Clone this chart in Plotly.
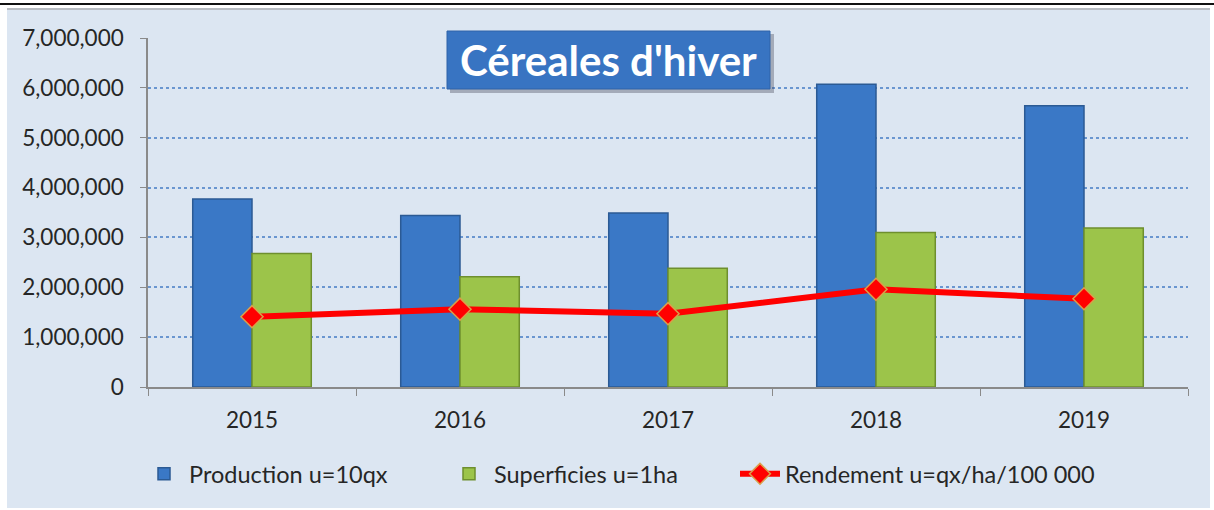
import plotly.graph_objects as go

years = ["2015", "2016", "2017", "2018", "2019"]
production = [3770000, 3440000, 3490000, 6070000, 5640000]
superficies = [2680000, 2210000, 2380000, 3100000, 3190000]
rendement = [1410000, 1560000, 1470000, 1960000, 1770000]
y_ticks = [0, 1000000, 2000000, 3000000, 4000000, 5000000, 6000000, 7000000]

W, H = 1214, 510
L, R, T, B = 148, 26, 38, 123
PW, PH = W - L - R, H - T - B

def px(x):
    return (x - L) / PW

def py(y):
    return (H - B - y) / PH

FONT = "Lato"
LEG_FONT = dict(family=FONT, size=23.5, color="#262626")

fig = go.Figure()
fig.add_trace(go.Bar(
    x=years, y=production, name="Production u=10qx", legend="legend",
    showlegend=True,
    marker=dict(color="#3a78c6", line=dict(color="#2b5a94", width=1.5)),
))
fig.add_trace(go.Bar(
    x=years, y=superficies, name="Superficies u=1ha", legend="legend2",
    showlegend=True,
    marker=dict(color="#9cc44a", line=dict(color="#6e8f2e", width=1.5)),
))
fig.add_trace(go.Scatter(
    x=years, y=rendement, name="Rendement u=qx/ha/100 000", legend="legend3",
    showlegend=True,
    mode="lines+markers",
    line=dict(color="#ff0000", width=6),
    marker=dict(symbol="diamond", size=17, color="#ff0000",
                line=dict(color="#d9a04a", width=1.5)),
))

shapes = [
    dict(type="rect", xref="paper", yref="paper", layer="below",
         x0=px(7), x1=px(1210), y0=py(508), y1=py(9),
         fillcolor="#dce6f2", line=dict(width=0)),
    dict(type="line", xref="paper", yref="paper",
         x0=px(0), x1=px(W), y0=py(4), y1=py(4),
         line=dict(color="#111111", width=2)),
    dict(type="line", xref="paper", yref="paper",
         x0=px(7), x1=px(1210), y0=py(9), y1=py(9),
         line=dict(color="#b8bcc2", width=2)),
    dict(type="rect", xref="paper", yref="paper",
         x0=px(450), x1=px(774), y0=py(93), y1=py(34),
         fillcolor="rgba(60,60,80,0.35)", line=dict(width=0)),
    dict(type="rect", xref="paper", yref="paper",
         x0=px(447), x1=px(770), y0=py(89), y1=py(31),
         fillcolor="#3874c2", line=dict(color="#2f63a8", width=1)),
]

def leg(xpix):
    return dict(
        orientation="h", x=px(xpix), y=py(452), xanchor="left", yanchor="top",
        font=LEG_FONT, bgcolor="rgba(0,0,0,0)", itemwidth=40, visible=True,
    )

fig.update_layout(
    width=W, height=H,
    margin=dict(l=L, r=R, t=T, b=B, autoexpand=False),
    paper_bgcolor="white",
    plot_bgcolor="rgba(0,0,0,0)",
    barmode="group",
    bargap=0.43,
    bargroupgap=0,
    showlegend=True,
    shapes=shapes,
    font=dict(family=FONT, color="#262626", size=21),
    annotations=[dict(
        text="<b>Céreales d'hiver</b>", xref="paper", yref="paper",
        x=px(608), y=py(60), xanchor="center", yanchor="middle",
        showarrow=False, font=dict(family=FONT, size=42, color="white"),
    )],
    legend=leg(139),
    legend2=leg(444),
    legend3=leg(735),
    xaxis=dict(
        showline=True, linecolor="#8a8a8a", linewidth=1.5,
        ticks="outside", tickson="boundaries", ticklen=7, tickcolor="#8a8a8a",
        tickfont=dict(family=FONT, size=22.5, color="#262626"),
        ticklabelstandoff=12,
        showgrid=False,
    ),
    yaxis=dict(
        range=[0, 7000000], tickvals=y_ticks, tickformat=",",
        showline=True, linecolor="#8a8a8a", linewidth=1.5,
        ticks="outside", ticklen=6, tickcolor="#8a8a8a",
        tickfont=dict(family=FONT, size=22.5, color="#262626"),
        ticklabelstandoff=12,
        showgrid=True, gridcolor="#6a96d0", gridwidth=1.5, griddash="dot",
        zeroline=False,
    ),
)

fig.write_html("out.html", config={"displayModeBar": False},
               post_script="document.body.style.margin='0';")
